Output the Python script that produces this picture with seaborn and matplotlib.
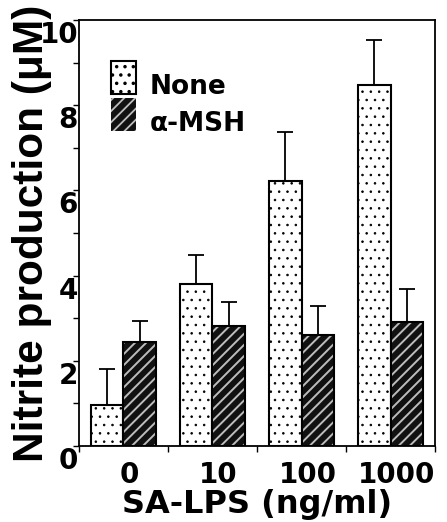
import matplotlib
matplotlib.use("Agg")
import matplotlib.pyplot as plt
import matplotlib.transforms as mtransforms
import seaborn as sns
import pandas as pd
import numpy as np
from matplotlib.patches import Rectangle, Patch
from matplotlib.legend_handler import HandlerPatch

doses = ["0", "10", "100", "1000"]
none_vals = [0.96, 3.81, 6.21, 8.47]
none_err = [0.85, 0.68, 1.15, 1.06]
msh_vals = [2.45, 2.82, 2.61, 2.92]
msh_err = [0.49, 0.57, 0.68, 0.77]
groups = ["None", "\u03b1-MSH"]

sns.set_theme(style="white")
plt.rcParams['font.family'] = ['Liberation Sans', 'DejaVu Sans']
plt.rcParams['font.weight'] = 'bold'
plt.rcParams['text.color'] = 'black'
plt.rcParams['axes.labelcolor'] = 'black'
plt.rcParams['xtick.color'] = 'black'
plt.rcParams['ytick.color'] = 'black'
plt.rcParams['hatch.linewidth'] = 1.3

DOT_HATCH = ". ."
STRIPE_HATCH = "///"
STRIPE_COLOR = "#bdbdbd"
DARK = "#111111"

df = pd.DataFrame({
    "dose": doses * 2,
    "value": none_vals + msh_vals,
    "group": [groups[0]] * 4 + [groups[1]] * 4,
})

fig = plt.figure(figsize=(4.47, 5.22), dpi=100)
ax = fig.add_axes([0.1767, 0.1456, 0.9732 - 0.1767, 0.9617 - 0.1456])

sns.barplot(data=df, x="dose", y="value", hue="group", order=doses,
            hue_order=groups, width=0.72, errorbar=None, ax=ax,
            palette=["white", DARK], legend=False, saturation=1)


def style_dots(p):
    p.set_facecolor("white")
    p.set_hatch(DOT_HATCH)
    p.set_edgecolor("black")
    p.set_linewidth(1.5)
    if hasattr(p, "set_hatch_linewidth"):
        p.set_hatch_linewidth(0.6)


def style_stripes(p):
    p.set_facecolor(DARK)
    p.set_hatch(STRIPE_HATCH)
    p.set_edgecolor(STRIPE_COLOR)
    p.set_linewidth(0)
    if hasattr(p, "set_hatch_linewidth"):
        p.set_hatch_linewidth(1.4)


n = len(doses)
patches = list(ax.patches[:2 * n])
errs = [none_err, msh_err]
for gi in range(2):
    for i in range(n):
        p = patches[gi * n + i]
        xc = p.get_x() + p.get_width() / 2
        h = p.get_height()
        if gi == 0:
            style_dots(p)
        else:
            style_stripes(p)
            ax.add_patch(Rectangle(p.get_xy(), p.get_width(), h, fill=False,
                                   ec="black", lw=1.5, zorder=p.get_zorder() + 0.1))
        ax.errorbar([xc], [h], yerr=[[0], [errs[gi][i]]], fmt="none",
                    ecolor="black", elinewidth=1.3, capsize=6, capthick=1.3,
                    zorder=1)

ax.set_ylim(0, 10)
ax.set_xlim(-0.5, n - 0.5)
ax.set_yticks([0, 2, 4, 6, 8, 10])
ax.set_yticks([1, 3, 5, 7, 9], minor=True)
ax.set_xticks(range(n))
ax.set_xticklabels(doses)
ax.set_xticks(np.arange(-0.5, n, 1.0), minor=True)
ax.tick_params(axis="y", which="both", direction="out", length=4, width=1,
               left=True, pad=-3.3)
ax.tick_params(axis="y", which="major", labelsize=20)
ax.tick_params(axis="x", which="major", length=0, labelsize=20, pad=11)
ax.tick_params(axis="x", which="minor", direction="out", length=4, width=1, bottom=True)

for s in ax.spines.values():
    s.set_color("black")
    s.set_linewidth(1.3)

ax.set_xlabel("SA-LPS (ng/ml)", fontsize=23, fontweight="bold", labelpad=0,
              family="DejaVu Sans")
ax.set_ylabel("Nitrite production (\u03bcM)", fontsize=30.5, fontweight="bold",
              labelpad=-9)


class RaisedPatchHandler(HandlerPatch):
    def create_artists(self, legend, orig_handle, xdescent, ydescent,
                       width, height, fontsize, trans):
        r = Rectangle((-xdescent, 0), width, height)
        self.update_prop(r, orig_handle, legend)
        r.set_transform(trans)
        return [r]


h1 = Patch(facecolor="white", edgecolor="black", hatch=DOT_HATCH, lw=1.5)
h2 = Patch(facecolor=DARK, edgecolor=STRIPE_COLOR, hatch=STRIPE_HATCH, lw=0)
leg = ax.legend([h1, h2], groups, loc="upper left", bbox_to_anchor=(0.09, 0.885),
                frameon=False, prop={"family": "DejaVu Sans", "weight": "bold", "size": 19},
                handlelength=0.95, handleheight=1.55,
                handletextpad=0.53, labelspacing=0.15, borderaxespad=0, borderpad=0,
                handler_map={Patch: RaisedPatchHandler()})
for t in leg.get_texts():
    t.set_color("black")

# tick label fonts / offsets
dy = mtransforms.ScaledTranslation(0, -12 / 100, fig.dpi_scale_trans)
dx = mtransforms.ScaledTranslation(6 / 100, 0, fig.dpi_scale_trans)
for lab in ax.get_yticklabels():
    lab.set_fontweight("bold")
    lab.set_family("DejaVu Sans")
    lab.set_transform(lab.get_transform() + dy)
for lab in ax.get_xticklabels():
    lab.set_fontweight("bold")
    lab.set_family("DejaVu Sans")
    lab.set_transform(lab.get_transform() + dx)

fig.savefig("out.png", dpi=100)
